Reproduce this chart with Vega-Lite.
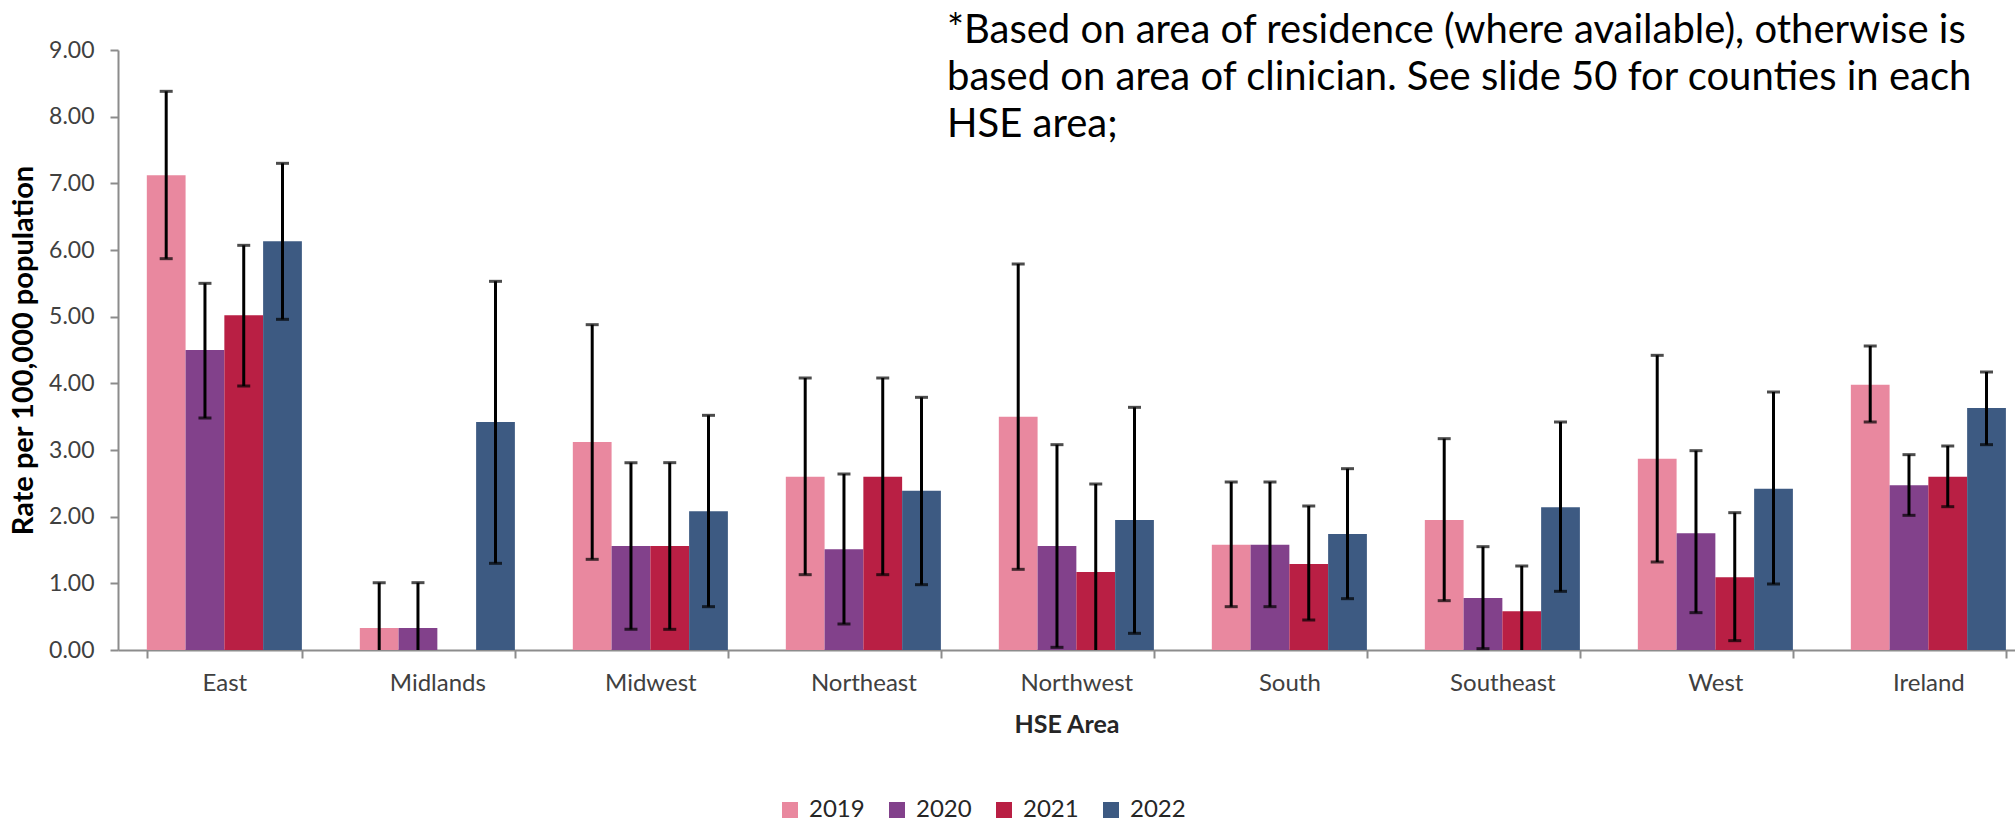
{
  "$schema": "https://vega.github.io/schema/vega-lite/v6.json",
  "autosize": {"type": "none"},
  "padding": {"left": 118, "top": 50, "right": 0, "bottom": 171},
  "width": 1897,
  "height": 600,
  "background": "white",
  "title": {
    "text": ["*Based on area of residence (where available), otherwise is", "based on area of clinician. See slide 50 for counties in each", "HSE area;"],
    "anchor": "start",
    "frame": "group",
    "dx": 829,
    "offset": -106,
    "font": "Lato",
    "fontSize": 40,
    "fontWeight": "normal",
    "lineHeight": 47,
    "color": "#000000"
  },
  "data": {
    "values": [
      {"area": "East", "year": "2019", "rate": 7.12, "lo": 5.87, "hi": 8.38},
      {"area": "East", "year": "2020", "rate": 4.50, "lo": 3.48, "hi": 5.50},
      {"area": "East", "year": "2021", "rate": 5.02, "lo": 3.96, "hi": 6.07},
      {"area": "East", "year": "2022", "rate": 6.13, "lo": 4.96, "hi": 7.30},
      {"area": "Midlands", "year": "2019", "rate": 0.33, "lo": 0.0, "hi": 1.01},
      {"area": "Midlands", "year": "2020", "rate": 0.33, "lo": 0.0, "hi": 1.01},
      {"area": "Midlands", "year": "2022", "rate": 3.42, "lo": 1.30, "hi": 5.53},
      {"area": "Midwest", "year": "2019", "rate": 3.12, "lo": 1.36, "hi": 4.88},
      {"area": "Midwest", "year": "2020", "rate": 1.56, "lo": 0.31, "hi": 2.81},
      {"area": "Midwest", "year": "2021", "rate": 1.56, "lo": 0.31, "hi": 2.81},
      {"area": "Midwest", "year": "2022", "rate": 2.08, "lo": 0.65, "hi": 3.52},
      {"area": "Northeast", "year": "2019", "rate": 2.60, "lo": 1.13, "hi": 4.08},
      {"area": "Northeast", "year": "2020", "rate": 1.51, "lo": 0.39, "hi": 2.64},
      {"area": "Northeast", "year": "2021", "rate": 2.60, "lo": 1.13, "hi": 4.08},
      {"area": "Northeast", "year": "2022", "rate": 2.39, "lo": 0.98, "hi": 3.79},
      {"area": "Northwest", "year": "2019", "rate": 3.50, "lo": 1.21, "hi": 5.79},
      {"area": "Northwest", "year": "2020", "rate": 1.56, "lo": 0.04, "hi": 3.08},
      {"area": "Northwest", "year": "2021", "rate": 1.17, "lo": 0.0, "hi": 2.49},
      {"area": "Northwest", "year": "2022", "rate": 1.95, "lo": 0.25, "hi": 3.64},
      {"area": "South", "year": "2019", "rate": 1.58, "lo": 0.65, "hi": 2.52},
      {"area": "South", "year": "2020", "rate": 1.58, "lo": 0.65, "hi": 2.52},
      {"area": "South", "year": "2021", "rate": 1.29, "lo": 0.45, "hi": 2.16},
      {"area": "South", "year": "2022", "rate": 1.74, "lo": 0.77, "hi": 2.72},
      {"area": "Southeast", "year": "2019", "rate": 1.95, "lo": 0.74, "hi": 3.17},
      {"area": "Southeast", "year": "2020", "rate": 0.78, "lo": 0.02, "hi": 1.55},
      {"area": "Southeast", "year": "2021", "rate": 0.58, "lo": 0.0, "hi": 1.26},
      {"area": "Southeast", "year": "2022", "rate": 2.14, "lo": 0.88, "hi": 3.42},
      {"area": "West", "year": "2019", "rate": 2.87, "lo": 1.32, "hi": 4.42},
      {"area": "West", "year": "2020", "rate": 1.75, "lo": 0.56, "hi": 2.99},
      {"area": "West", "year": "2021", "rate": 1.09, "lo": 0.14, "hi": 2.06},
      {"area": "West", "year": "2022", "rate": 2.42, "lo": 0.99, "hi": 3.87},
      {"area": "Ireland", "year": "2019", "rate": 3.98, "lo": 3.42, "hi": 4.56},
      {"area": "Ireland", "year": "2020", "rate": 2.47, "lo": 2.02, "hi": 2.93},
      {"area": "Ireland", "year": "2021", "rate": 2.60, "lo": 2.15, "hi": 3.06},
      {"area": "Ireland", "year": "2022", "rate": 3.63, "lo": 3.08, "hi": 4.17}
    ]
  },
  "encoding": {
    "x": {
      "field": "area",
      "type": "nominal",
      "sort": ["East", "Midlands", "Midwest", "Northeast", "Northwest", "South", "Southeast", "West", "Ireland"],
      "scale": {"paddingInner": 0.272, "paddingOuter": 0.089, "align": 0.76},
      "axis": {
        "title": "HSE Area",
        "labelAngle": 0,
        "tickBand": "extent",
        "labelFont": "Lato",
        "labelFontSize": 24,
        "labelColor": "#404040",
        "labelPadding": 13,
        "titleFont": "Lato",
        "titleFontSize": 25,
        "titleFontWeight": "bold",
        "titleColor": "#262626",
        "titlePadding": 17,
        "domainColor": "#8c8c8c",
        "domainWidth": 2,
        "tickColor": "#8c8c8c",
        "tickWidth": 2,
        "tickSize": 8
      }
    },
    "xOffset": {
      "field": "year",
      "type": "nominal",
      "scale": {"domain": ["2019", "2020", "2021", "2022"], "paddingInner": 0, "paddingOuter": 0}
    }
  },
  "layer": [
    {
      "mark": {"type": "bar"},
      "encoding": {
        "y": {
          "field": "rate",
          "type": "quantitative",
          "scale": {"domain": [0, 9], "nice": false},
          "axis": {
            "title": "Rate per 100,000 population",
            "values": [0, 1, 2, 3, 4, 5, 6, 7, 8, 9],
            "format": ".2f",
            "grid": false,
            "labelFont": "Lato",
            "labelFontSize": 23,
            "labelColor": "#404040",
            "labelPadding": 16,
            "titleFont": "Lato",
            "titleFontSize": 29,
            "titleFontWeight": "bold",
            "titleColor": "#000000",
            "titlePadding": 10,
            "domainColor": "#8c8c8c",
            "domainWidth": 2,
            "tickColor": "#8c8c8c",
            "tickWidth": 2,
            "tickSize": 8
          }
        },
        "color": {
          "field": "year",
          "type": "nominal",
          "scale": {"domain": ["2019", "2020", "2021", "2022"], "range": ["#E9889F", "#82418B", "#B91F44", "#3D5A82"]},
          "legend": {
            "title": null,
            "orient": "none",
            "direction": "horizontal",
            "legendX": 660,
            "legendY": 748,
            "symbolType": "square",
            "symbolSize": 256,
            "symbolStrokeWidth": 0,
            "labelFont": "Lato",
            "labelFontSize": 24,
            "labelColor": "#262626",
            "labelOffset": 7,
            "columnPadding": 20
          }
        }
      }
    },
    {
      "mark": {"type": "rule", "color": "#000000", "strokeWidth": 3},
      "encoding": {
        "y": {"field": "lo", "type": "quantitative"},
        "y2": {"field": "hi"}
      }
    },
    {
      "mark": {"type": "tick", "color": "#000000", "thickness": 3, "size": 13},
      "encoding": {
        "y": {"field": "hi", "type": "quantitative"}
      }
    },
    {
      "transform": [{"filter": "datum.lo > 0"}],
      "mark": {"type": "tick", "color": "#000000", "thickness": 3, "size": 13},
      "encoding": {
        "y": {"field": "lo", "type": "quantitative"}
      }
    }
  ],
  "config": {
    "view": {"stroke": null}
  }
}
